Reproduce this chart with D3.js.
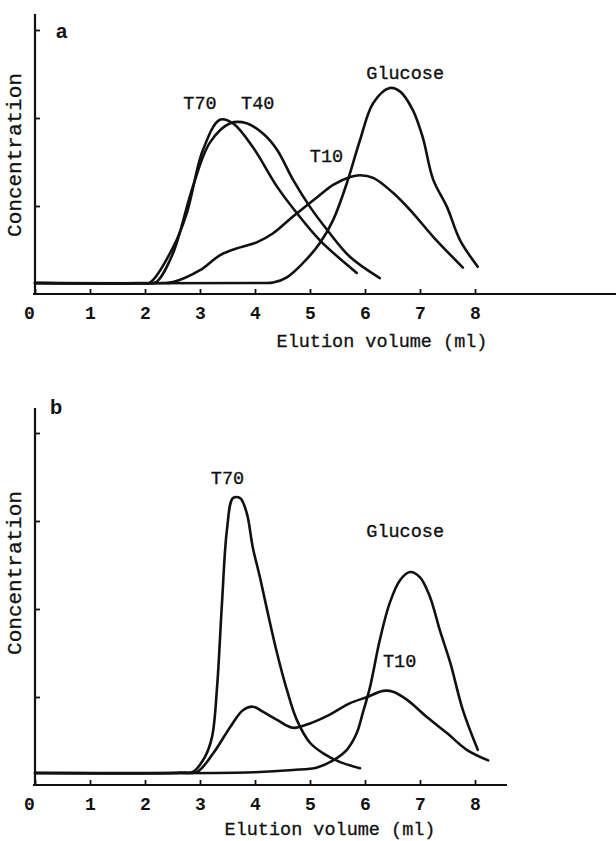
<!DOCTYPE html>
<html><head><meta charset="utf-8">
<script src="https://cdn.jsdelivr.net/npm/d3@7"></script>
<style>
body{margin:0;background:#fff;}
text{font-family:"Liberation Mono","Courier New",monospace;fill:#111;}
</style></head>
<body>
<svg id="c" width="616" height="841"></svg>
<script>
// ---- data ----
const xTicks = [0,1,2,3,4,5,6,7,8];
const yTicksA = [1,2,3];
const yTicksB = [1,2,3,4];
const xLabel = "Elution volume (ml)";
const yLabel = "Concentration";

// panel a : [elution volume, concentration]
const aT70 = [[0,0.125],[1.9,0.125],[2.09,0.13],[2.51,0.53],[2.76,0.92],[3.05,1.63],[3.36,1.98],[3.6,1.94],[3.96,1.67],[4.4,1.22],[4.76,0.92],[5.18,0.61],[5.85,0.24]];
const aT40 = [[0,0.125],[2.0,0.125],[2.2,0.135],[2.5,0.45],[2.87,1.22],[3.18,1.72],[3.55,1.94],[3.85,1.94],[4.15,1.82],[4.4,1.64],[4.69,1.3],[5.0,0.99],[5.31,0.73],[5.73,0.42],[6.27,0.18]];
const aT10 = [[0,0.125],[2.3,0.125],[2.51,0.135],[3.0,0.27],[3.36,0.44],[3.73,0.53],[4.04,0.59],[4.33,0.69],[4.69,0.88],[5.13,1.1],[5.42,1.24],[5.73,1.33],[5.91,1.35],[6.15,1.32],[6.51,1.15],[6.87,0.92],[7.24,0.65],[7.78,0.3]];
const aGlucose = [[0,0.125],[4.1,0.125],[4.33,0.13],[4.58,0.19],[4.87,0.35],[5.18,0.58],[5.42,0.84],[5.67,1.26],[5.91,1.75],[6.15,2.17],[6.45,2.34],[6.64,2.3],[6.87,2.09],[7.05,1.78],[7.24,1.3],[7.49,0.99],[7.73,0.61],[8.05,0.31]];

// panel b
const bT70 = [[0,0.136],[2.6,0.14],[2.87,0.15],[3.09,0.32],[3.22,0.55],[3.31,1.11],[3.4,2.07],[3.49,2.9],[3.6,3.26],[3.73,3.26],[3.85,3.09],[3.96,2.7],[4.09,2.36],[4.22,1.99],[4.4,1.5],[4.58,1.08],[4.76,0.74],[5.0,0.48],[5.24,0.36],[5.55,0.26],[5.91,0.19]];
const bT10 = [[0,0.136],[2.7,0.14],[2.95,0.15],[3.24,0.36],[3.55,0.66],[3.78,0.85],[3.96,0.89],[4.15,0.83],[4.4,0.74],[4.69,0.65],[5.0,0.7],[5.36,0.8],[5.73,0.93],[6.04,1.0],[6.33,1.07],[6.51,1.06],[6.76,0.97],[7.13,0.77],[7.49,0.59],[7.85,0.4],[8.24,0.28]];
const bGlucose = [[0,0.136],[4.0,0.145],[4.69,0.17],[5.13,0.2],[5.42,0.28],[5.67,0.4],[5.85,0.59],[5.96,0.82],[6.09,1.11],[6.27,1.65],[6.45,2.07],[6.64,2.33],[6.82,2.42],[7.0,2.36],[7.18,2.14],[7.36,1.76],[7.55,1.39],[7.78,0.85],[8.05,0.4]];

const seriesA = [
  {name:"T70", data:aT70, lx:3.0, ly:2.15},
  {name:"T40", data:aT40, lx:4.05, ly:2.15},
  {name:"T10", data:aT10, lx:5.3, ly:1.55},
  {name:"Glucose", data:aGlucose, lx:6.73, ly:2.49}
];
const seriesB = [
  {name:"T70", data:bT70, lx:3.5, ly:3.47},
  {name:"Glucose", data:bGlucose, lx:6.73, ly:2.87},
  {name:"T10", data:bT10, lx:6.63, ly:1.39}
];

const svg = d3.select("#c");

function panel(cfg){
  const g = svg.append("g");
  const x = d3.scaleLinear().domain([0,8]).range([35,475]);
  const y = d3.scaleLinear().domain([0,cfg.yMax]).range([cfg.y0, cfg.y0 - 88*cfg.yMax]);
  const xEnd = x.invert(cfg.axisRight);
  const yTop = y.invert(cfg.axisTop);

  // x axis
  const xa = g.append("g").attr("transform",`translate(0,${cfg.y0})`)
    .call(d3.axisBottom(x).tickValues(xTicks).tickSize(-5).tickSizeOuter(0).tickFormat(d3.format("d")));
  xa.select(".domain").remove();
  xa.append("line").attr("x1",x(0)-2).attr("x2",x(xEnd)).attr("y1",0).attr("y2",0)
    .attr("stroke","#111").attr("stroke-width",2.2);
  xa.selectAll(".tick line").attr("stroke","#111").attr("stroke-width",1.8);
  xa.selectAll(".tick text").attr("y",25).attr("dy",0).attr("dx",d=>d===0?-6:0)
    .style("font-size","18px").style("font-weight","bold").style("font-family",'"Liberation Mono",monospace');

  // y axis
  const ya = g.append("g").attr("transform",`translate(${x(0)},0)`)
    .call(d3.axisLeft(y).tickValues(cfg.yTicks).tickSize(-5).tickSizeOuter(0).tickFormat(""));
  ya.select(".domain").remove();
  ya.append("line").attr("x1",0).attr("x2",0).attr("y1",y(0)).attr("y2",y(yTop))
    .attr("stroke","#111").attr("stroke-width",2.2);
  ya.selectAll(".tick line").attr("stroke","#111").attr("stroke-width",1.8);

  // curves
  const line = d3.line().x(d=>x(d[0])).y(d=>y(d[1])).curve(d3.curveCatmullRom.alpha(0.5));
  cfg.series.forEach(s=>{
    g.append("path").datum(s.data).attr("d",line)
      .attr("fill","none").attr("stroke","#111").attr("stroke-width",2.6)
      .attr("stroke-linejoin","round").attr("stroke-linecap","round");
    g.append("text").attr("x",x(s.lx)).attr("y",y(s.ly)).attr("text-anchor","middle")
      .attr("dominant-baseline","central").style("font-size","18.5px")
      .attr("stroke","#111").attr("stroke-width",0.35).text(s.name);
  });

  // panel letter
  g.append("text").attr("x",cfg.letterX).attr("y",cfg.letterY).attr("dominant-baseline","central")
    .style("font-family","'Liberation Sans',Arial,sans-serif").style("font-weight","bold")
    .style("font-size","20px").text(cfg.letter);

  // axis titles
  g.append("text").attr("transform",`translate(15,${cfg.yLabelY}) rotate(-90)`)
    .attr("text-anchor","middle").attr("dominant-baseline","central")
    .attr("stroke","#111").attr("stroke-width",0.3)
    .style("font-size","21px").text(yLabel);
  g.append("text").attr("x",cfg.xLabelX).attr("y",cfg.xLabelY).attr("text-anchor","middle")
    .attr("dominant-baseline","central").attr("stroke","#111").attr("stroke-width",0.3)
    .style("font-size","18.5px").text(xLabel);
}

panel({y0:294, yMax:3, yTicks:yTicksA, axisRight:616, axisTop:14, series:seriesA,
  letter:"a", letterX:56, letterY:31, yLabelY:155, xLabelX:382, xLabelY:342});
panel({y0:785, yMax:4, yTicks:yTicksB, axisRight:507, axisTop:408, series:seriesB,
  letter:"b", letterX:50, letterY:407, yLabelY:573, xLabelX:330, xLabelY:830});
</script>
</body></html>
